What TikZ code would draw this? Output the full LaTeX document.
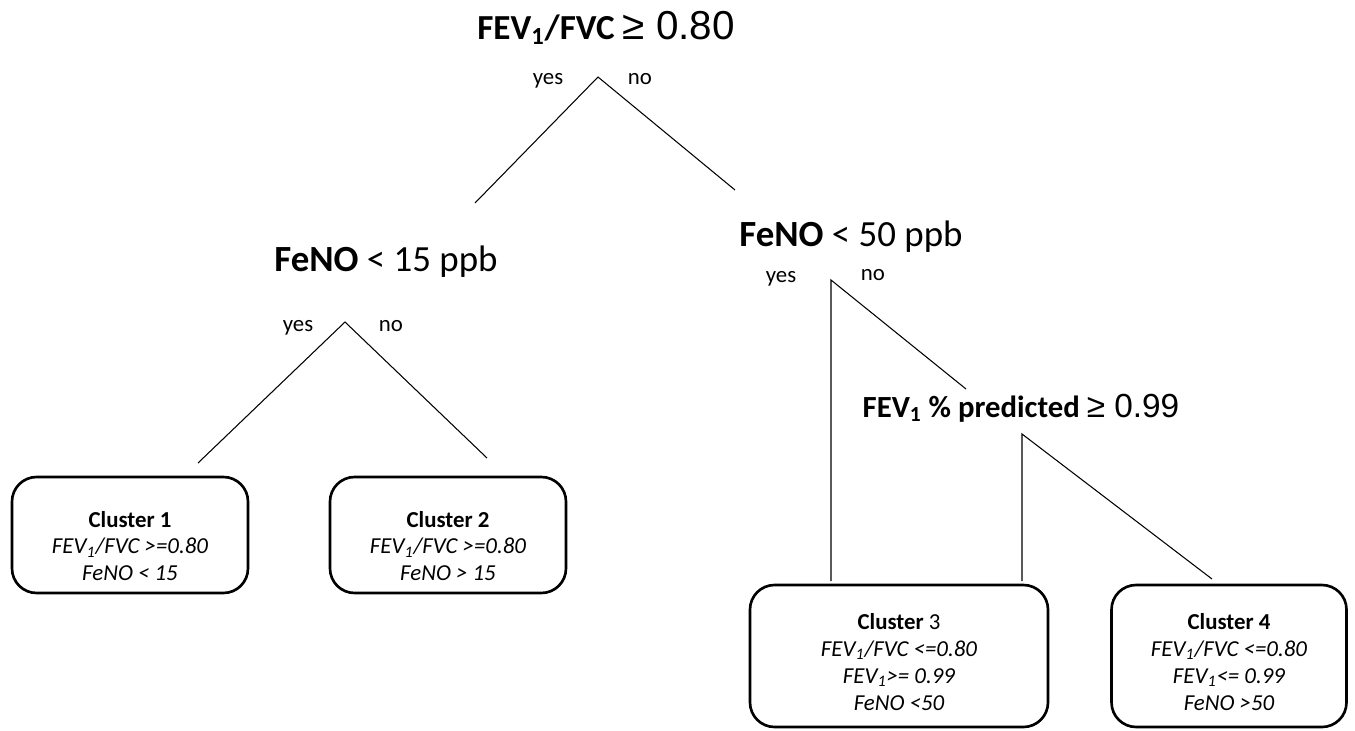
\documentclass[tikz,border=0pt]{standalone}
\usepackage{fontspec}
\setmainfont{Carlito}
\newfontfamily\arialfont{Liberation Sans}
\usepackage{tikz}
\usetikzlibrary{positioning}

\newcommand{\one}{\textsubscript{1}}

\begin{document}
\begin{tikzpicture}[
x=0.02cm,y=-0.02cm,
split/.style={
font=\fontsize{21}{24}\selectfont,
inner sep=0pt
},
answer/.style={
font=\fontsize{13}{15}\selectfont,
inner sep=0pt
},
cluster/.style={
draw,
line width=1.5pt,
rounded corners=14pt,
inner sep=0pt
},
clustertext/.style={
align=center,
inner sep=0pt,
font=\fontsize{13}{15.3}\selectfont
},
branch/.style={
line width=0.6pt
}
]

\useasboundingbox (0,0) rectangle (1355,730);

%%%%%%%%%%%%%%%%%%%%%%%%%%%%%%%%%%%%
% Split Questions
%%%%%%%%%%%%%%%%%%%%%%%%%%%%%%%%%%%%

\node[split] (q1) at (606,28)
{\fontsize{20}{24}\selectfont\textbf{FEV\one/FVC} {\arialfont\fontsize{23}{24}\selectfont ≥ 0.80}};

\node[split] (q2) at (386,262)
{\textbf{FeNO} < 15 ppb};

\node[split] (q3) at (851,237)
{\textbf{FeNO} < 50 ppb};

\node[split] (q4) at (1021,408)
{\fontsize{17.5}{20}\selectfont\textbf{FEV\one\ \% predicted} {\arialfont\fontsize{19}{20}\selectfont ≥ 0.99}};

%%%%%%%%%%%%%%%%%%%%%%%%%%%%%%%%%%%%
% Branch Points
%%%%%%%%%%%%%%%%%%%%%%%%%%%%%%%%%%%%

\coordinate (a1) at (598,77);
\coordinate (a1l) at (475,203);
\coordinate (a1r) at (735,190);

\coordinate (a2) at (345,322);
\coordinate (a2l) at (198,463);
\coordinate (a2r) at (487,458);

\coordinate (a3) at (831,280);
\coordinate (a3d) at (831,581);
\coordinate (a3r) at (966,389);

\coordinate (a4) at (1022,434);
\coordinate (a4d) at (1022,581);
\coordinate (a4r) at (1212,579);

\node[answer] (y1) at (548,81) {yes};
\node[answer] (n1) at (640,79) {no};
\node[answer] (y2) at (298,328) {yes};
\node[answer] (n2) at (391,326) {no};
\node[answer] (y3) at (781,279) {yes};
\node[answer] (n3) at (873,275) {no};

%%%%%%%%%%%%%%%%%%%%%%%%%%%%%%%%%%%%
% Clusters
%%%%%%%%%%%%%%%%%%%%%%%%%%%%%%%%%%%%

\node[cluster,minimum width=236*0.02cm,minimum height=116*0.02cm] (c1) at (130,535) {};
\node[clustertext] (t1) at (130,546)
{\textbf{Cluster 1}\\
\textit{FEV\one/FVC >=0.80}\\
\textit{FeNO < 15}};

\node[cluster,minimum width=236*0.02cm,minimum height=116*0.02cm] (c2) at (448,535) {};
\node[clustertext] (t2) at (448,546)
{\textbf{Cluster 2}\\
\textit{FEV\one/FVC >=0.80}\\
\textit{FeNO > 15}};

\node[cluster,minimum width=298*0.02cm,minimum height=142*0.02cm] (c3) at (899,656) {};
\node[clustertext] (t3) at (899,662)
{\textbf{Cluster} 3\\
\textit{FEV\one/FVC <=0.80}\\
\textit{FEV\one>= 0.99}\\
\textit{FeNO <50}};

\node[cluster,minimum width=235*0.02cm,minimum height=142*0.02cm] (c4) at (1229,656) {};
\node[clustertext] (t4) at (1229,662)
{\textbf{Cluster 4}\\
\textit{FEV\one/FVC <=0.80}\\
\textit{FEV\one<= 0.99}\\
\textit{FeNO >50}};

%%%%%%%%%%%%%%%%%%%%%%%%%%%%%%%%%%%%
% Connections
%%%%%%%%%%%%%%%%%%%%%%%%%%%%%%%%%%%%

\draw[branch] (a1l)--(a1)--(a1r);

\draw[branch] (a2l)--(a2)--(a2r);

\draw[branch] (a3d)--(a3)--(a3r);

\draw[branch] (a4d)--(a4)--(a4r);

\end{tikzpicture}
\end{document}
